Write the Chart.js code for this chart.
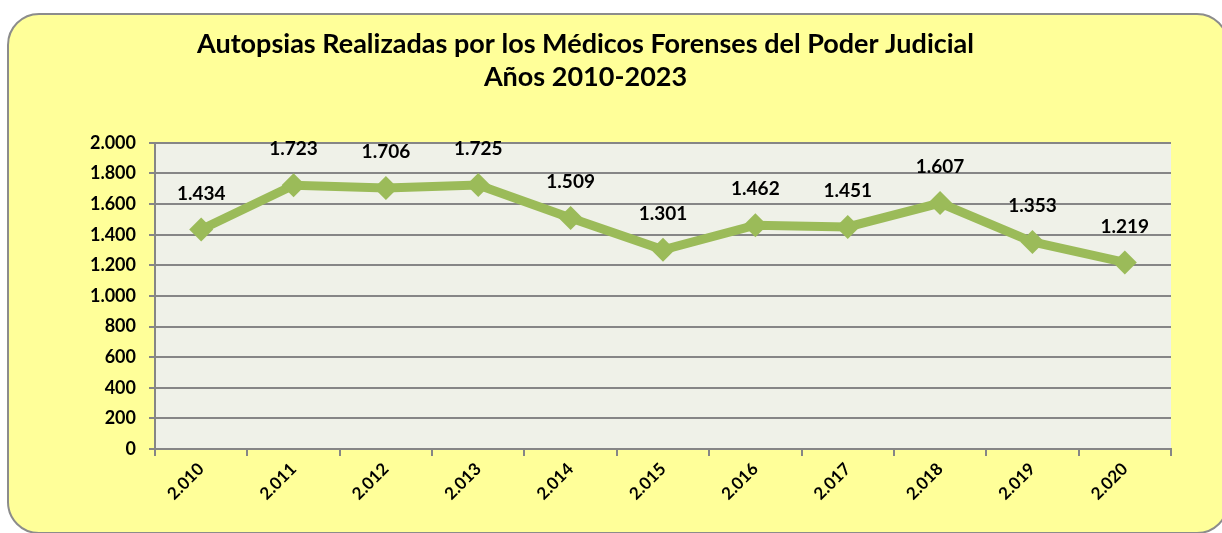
<!DOCTYPE html>
<html>
<head>
<meta charset="utf-8">
<script src="https://cdn.jsdelivr.net/npm/chart.js@4"></script>
<style>
  html,body{margin:0;padding:0;background:#fff;overflow:hidden;}
  #frame{position:absolute;left:7px;top:13px;width:1222px;height:521px;box-sizing:border-box;
    border:2px solid #8c8c8c;border-radius:32px;background:#ffff99;}
  #wrap{position:absolute;left:0;top:0;width:1222px;height:533px;}
</style>
</head>
<body>
<div id="frame"></div>
<div id="wrap"><canvas id="chart" width="1222" height="533"></canvas></div>
<script>
// --- Data ---
const years = ['2.010','2.011','2.012','2.013','2.014','2.015','2.016','2.017','2.018','2.019','2.020'];
const autopsias = [1434, 1723, 1706, 1725, 1509, 1301, 1462, 1451, 1607, 1353, 1219];
const titleLines = ['Autopsias Realizadas por los Médicos Forenses del Poder Judicial', 'Años 2010-2023'];

const FONT = 'Lato, "Open Sans", sans-serif';

// thousands with a dot, like the source
function fmt(v){
  return String(v).replace(/\B(?=(\d{3})+(?!\d))/g, '.');
}

// --- Plot area background ---
const plotBg = {
  id:'plotBg',
  beforeDraw(chart){
    const a = chart.chartArea, ctx = chart.ctx;
    ctx.save();
    ctx.fillStyle = '#eff1e8';
    ctx.fillRect(a.left, a.top, a.right-a.left, a.bottom-a.top);
    ctx.restore();
  }
};

// --- Value labels above the points ---
const valueLabels = {
  id:'valueLabels',
  afterDatasetsDraw(chart){
    const ctx = chart.ctx;
    const meta = chart.getDatasetMeta(0);
    ctx.save();
    ctx.font = 'bold 19px ' + FONT;
    ctx.fillStyle = '#000';
    ctx.textAlign = 'center';
    ctx.textBaseline = 'middle';
    meta.data.forEach((pt, i) => {
      ctx.fillText(fmt(chart.data.datasets[0].data[i]), pt.x, pt.y - 36);
    });
    ctx.restore();
  }
};

const ctx = document.getElementById('chart').getContext('2d');
new Chart(ctx, {
  type:'line',
  data:{
    labels: years,
    datasets:[{
      label:'Autopsias',
      data: autopsias,
      borderColor:'#9bbb59',
      backgroundColor:'#9bbb59',
      borderWidth:9,
      pointStyle:'rectRot',
      pointRadius:12,
      pointBorderWidth:0,
      tension:0
    }]
  },
  options:{
    responsive:false,
    animation:false,
    layout:{padding:{left:0, right:51, top:0, bottom:0}},
    plugins:{
      legend:{display:false},
      tooltip:{enabled:false},
      title:{
        display:true,
        text: titleLines,
        color:'#000',
        font:{family:FONT, size:27, weight:'bold', lineHeight:1.22},
        padding:{top:28, bottom:49}
      }
    },
    scales:{
      x:{
        offset:true,
        grid:{drawOnChartArea:false, color:'#868686', lineWidth:2, tickLength:7, offset:true},
        border:{color:'#868686', width:2},
        ticks:{color:'#000', font:{family:FONT, size:17, weight:'bold'}, minRotation:45, maxRotation:45, padding:3},
        afterFit(s){ s.height = 84; }
      },
      y:{
        min:0, max:2000,
        ticks:{stepSize:200, color:'#000', font:{family:FONT, size:18, weight:'bold'}, padding:13,
          callback:(v)=>fmt(v)},
        grid:{color:'#868686', lineWidth:2, tickLength:6},
        border:{color:'#868686', width:2},
        afterFit(s){ s.width = 155; }
      }
    }
  },
  plugins:[plotBg, valueLabels]
});
</script>
</body>
</html>
